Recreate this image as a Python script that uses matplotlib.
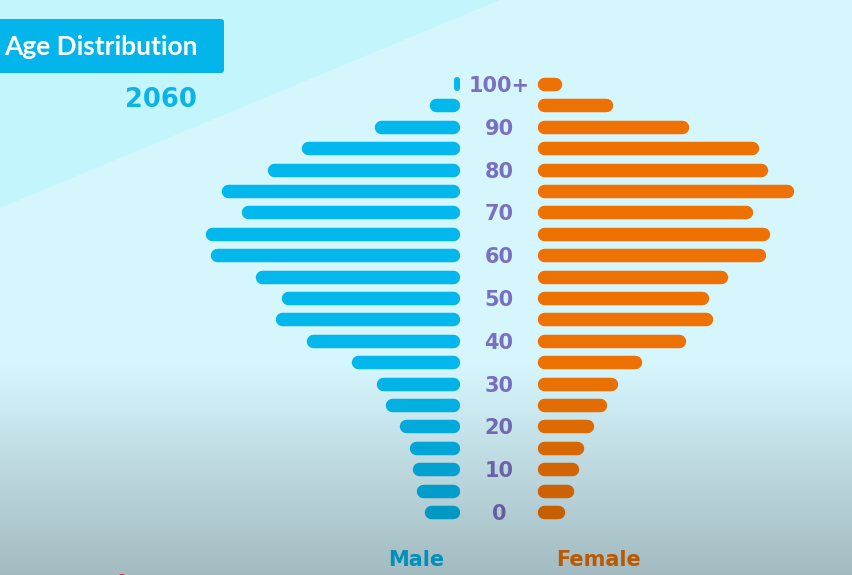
import matplotlib
matplotlib.use("Agg")
import matplotlib.pyplot as plt
import matplotlib.transforms as mtransforms
import matplotlib.colors as mcolors
from matplotlib.patches import FancyBboxPatch, Polygon, Ellipse
import numpy as np

# ---------------- data ----------------
age_groups = ["0", "5", "10", "15", "20", "25", "30", "35", "40", "45", "50",
              "55", "60", "65", "70", "75", "80", "85", "90", "95", "100+"]
tick_labels = ["0", "10", "20", "30", "40", "50", "60", "70", "80", "90", "100+"]
tick_groups = ["0", "10", "20", "30", "40", "50", "60", "70", "80", "90", "100+"]
male = [36, 44, 48, 51, 61, 75, 84, 109, 154, 185, 179,
        205, 250, 255, 219, 239, 193, 159, 86, 31, 6]
female = [28, 37, 42, 47, 57, 70, 81, 105, 149, 176, 172,
          191, 229, 233, 216, 257, 231, 222, 152, 76, 25]
title = "Age Distribution"
year = "2060"
series_names = ["Male", "Female"]

# ---------------- style ----------------
W, H = 852, 575
DPI = 100
MALE_C = "#02B7EC"
FEMALE_C = "#EE7203"
LABEL_C = "#7A70C0"
BG = "#D6F6FD"
TRI = "#C3F6FC"
SHADE_START, SHADE_AMT = 365, 0.24


def fx(px):
    return px / W


def fy(py):
    return 1 - py / H


def shade(py):
    t = np.clip((np.asarray(py, dtype=float) - SHADE_START) / (H - SHADE_START), 0, 1)
    return 1 - SHADE_AMT * t


def shaded(color, py):
    rgb = np.array(mcolors.to_rgb(color))
    return tuple(np.clip(rgb * shade(py), 0, 1))


fig = plt.figure(figsize=(W / DPI, H / DPI), dpi=DPI)
fig.patch.set_facecolor(BG)

# background: gradient image + diagonal triangle
bg = fig.add_axes([0, 0, 1, 1], zorder=-10)
rows = np.arange(H) + 0.5
bg_rgb = np.array(mcolors.to_rgb(BG))
col = bg_rgb[None, :] * shade(rows)[:, None]
bg_img = np.repeat(col[:, None, :], W, axis=1)
bg.imshow(bg_img, extent=[0, W, H, 0], aspect="auto", interpolation="nearest")
bg.add_patch(Polygon([(0, 0), (500, 0), (0, 208)], closed=True,
                     facecolor=TRI, edgecolor="none"))
bg.set_xlim(0, W)
bg.set_ylim(H, 0)
bg.axis("off")

# axes geometry (pixel positions)
top_px, bot_px = 62.6, 533.4
ax_b = fy(bot_px)
ax_h = (bot_px - top_px) / H
m_left, m_right = 140, 460
f_left, f_right = 537, 837

axM = fig.add_axes([fx(m_left), ax_b, fx(m_right - m_left), ax_h])
axF = fig.add_axes([fx(f_left), ax_b, fx(f_right - f_left), ax_h])
n = len(age_groups)
axM.set_xlim(m_right - m_left, 0)
axF.set_xlim(0, f_right - f_left)
for ax in (axM, axF):
    ax.set_ylim(-1, n)
    ax.axis("off")
    ax.patch.set_alpha(0)

bar_h = 0.63  # in category units
ypp = (n + 1) / (bot_px - top_px)  # data units per pixel (y)


def row_px(i):
    return bot_px - (i + 1) / ypp


def draw_bars(ax, values, color, axw_px):
    xlo, xhi = ax.get_xlim()
    xpp = abs(xhi - xlo) / axw_px
    h_px = bar_h / ypp
    for i, v in enumerate(values):
        c = shaded(color, row_px(i))
        w_px = v / xpp
        if w_px >= h_px:
            r = (h_px / 2) * xpp
            ax.plot([r, v - r], [i, i], color=c, lw=h_px * 72 / DPI,
                    solid_capstyle="round", zorder=2)
        else:
            r = (w_px / 2) * ypp
            ax.plot([v / 2, v / 2], [i - bar_h / 2 + r, i + bar_h / 2 - r],
                    color=c, lw=w_px * 72 / DPI,
                    solid_capstyle="round", zorder=2)


draw_bars(axM, male, MALE_C, m_right - m_left)
draw_bars(axF, female, FEMALE_C, f_right - f_left)

# age labels in the middle
trans = mtransforms.blended_transform_factory(fig.transFigure, axM.transData)
trans = trans + mtransforms.ScaledTranslation(0, -8 / DPI, fig.dpi_scale_trans)
for lab, grp in zip(tick_labels, tick_groups):
    i = age_groups.index(grp)
    fig.text(fx(499), i, lab, transform=trans, ha="center", va="baseline",
             fontsize=15, fontweight="bold", family="DejaVu Sans",
             color=shaded(LABEL_C, row_px(i)))

# series labels
fig.text(fx(416.5), fy(566), series_names[0], ha="center", va="baseline",
         fontsize=15, fontweight="bold", family="DejaVu Sans",
         color=shaded(MALE_C, 558))
fig.text(fx(598), fy(566), series_names[1], ha="center", va="baseline",
         fontsize=15, fontweight="bold", family="DejaVu Sans",
         color=shaded(FEMALE_C, 558))

# title box
fig.add_artist(FancyBboxPatch((fx(-10), fy(73)), fx(234), (73 - 19) / H,
                              boxstyle="round,pad=0,rounding_size=%f" % (3 / W),
                              mutation_aspect=W / H,
                              transform=fig.transFigure, facecolor="#03B5EA",
                              edgecolor="none", zorder=3))
fig.text(fx(198), fy(55), title, ha="right", va="baseline", fontsize=19,
         fontweight="bold", family="Lato", color="white", zorder=4)
fig.text(fx(197), fy(107), year, ha="right", va="baseline", fontsize=18.5,
         fontweight="bold", family="DejaVu Sans", color="#0CB3E7", zorder=4)

# small red marker at bottom edge
fig.add_artist(Ellipse((fx(122), fy(580)), 12 / W, 12 / H,
                       transform=fig.transFigure, facecolor="#E8184E",
                       edgecolor="none", zorder=20))

fig.savefig("out.png", dpi=DPI, facecolor=fig.get_facecolor())
